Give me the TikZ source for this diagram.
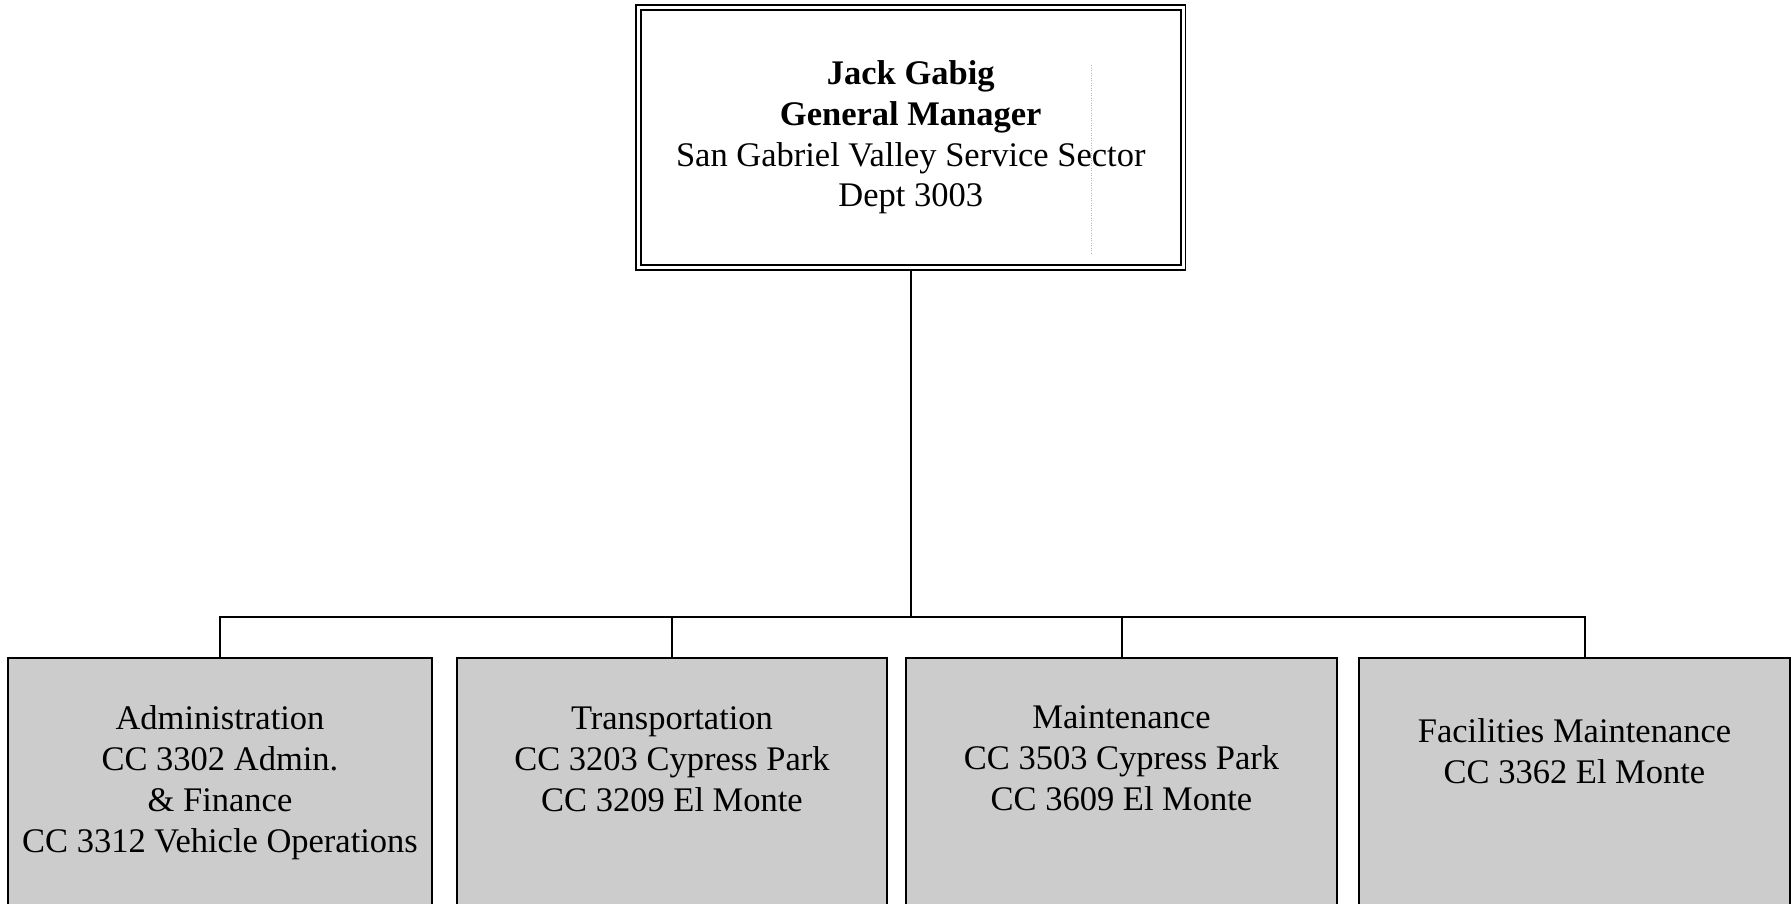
\documentclass[tikz,border=0pt]{standalone}
\usepackage{fontspec}
\setmainfont{Liberation Serif}
\definecolor{boxgray}{gray}{0.80}
\tikzset{
  conn/.style={line width=2pt, black},
  topbox/.style={draw, double, double distance=3pt, line width=1.7pt,
    minimum width=544.5pt, minimum height=260pt, inner sep=0pt, outer sep=2.35pt,
    align=center, font=\fontsize{34.5}{40.7}\selectfont},
  childbox/.style={draw, line width=2pt, fill=boxgray, inner sep=0pt, outer sep=0pt,
    minimum height=254pt},
  childtext/.style={align=center, inner sep=0pt, anchor=north,
    font=\fontsize{34.5}{41}\selectfont},
  artifact/.style={gray!55, line width=0.8pt, dash pattern=on 1pt off 1.5pt},
}
\begin{document}
\begin{tikzpicture}[x=1pt,y=-1pt]
\useasboundingbox (0,0) rectangle (1792,903);
\clip (0,0) rectangle (1792,903);
\fill[white] (0,0) rectangle (1792,903);

\node[topbox] (gm) at (910.75,137.5)
  {\textbf{Jack Gabig}\\ \textbf{General Manager}\\ San Gabriel Valley Service Sector\\ Dept 3003};
\draw[artifact] (1091,65) -- (1091,255);

\node[childbox, minimum width=424pt] (b1) at (220,785) {};
\node[childbox, minimum width=430pt] (b2) at (672,785) {};
\node[childbox, minimum width=431pt] (b3) at (1121.5,785) {};
\node[childbox, minimum width=431pt] (b4) at (1574.5,785) {};

\node[childtext] (t1) at ([yshift=-47.4pt]b1.north)
  {Administration\\ CC 3302 Admin.\\ \& Finance\\ CC 3312 Vehicle Operations};
\node[childtext] (t2) at ([yshift=-48.2pt]b2.north)
  {Transportation\\ CC 3203 Cypress Park\\ CC 3209 El Monte};
\node[childtext] (t3) at ([yshift=-47.4pt]b3.north)
  {Maintenance\\ CC 3503 Cypress Park\\ CC 3609 El Monte};
\node[childtext] (t4) at ([yshift=-60.4pt]b4.north)
  {Facilities Maintenance\\ CC 3362 El Monte};

\coordinate (bus) at (912,617);
\draw[conn] (gm.south) -- (gm.south |- bus);
\draw[conn] (b1.north) |- ([xshift=10.5pt]b4.north |- bus) -- ([xshift=10.5pt]b4.north);
\draw[conn] (b2.north) -- (b2.north |- bus);
\draw[conn] (b3.north) -- (b3.north |- bus);
\end{tikzpicture}
\end{document}
